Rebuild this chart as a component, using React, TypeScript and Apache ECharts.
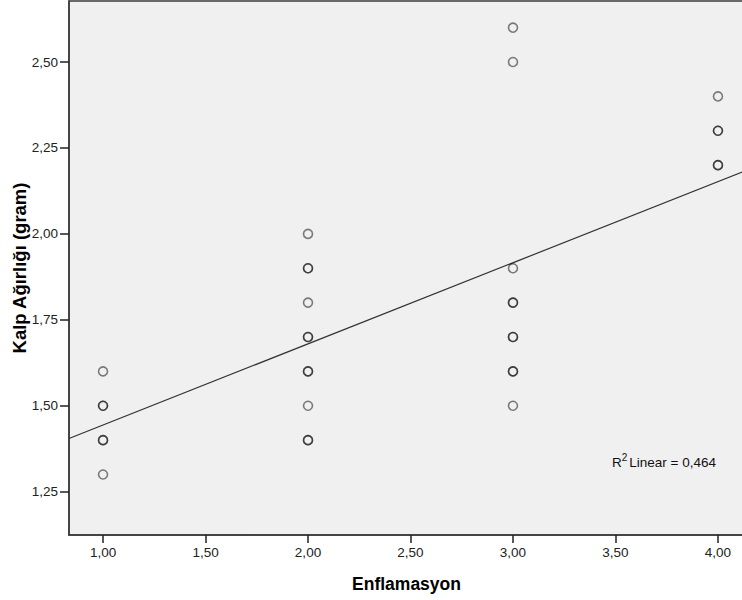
import React, { useEffect, useRef } from "react";
import * as echarts from "echarts";

// Enflamasyon score and heart weight (gram) per animal; repeated pairs are kept
const enflamasyon = [
  1, 1, 1, 1, 1, 1,
  2, 2, 2, 2, 2, 2, 2, 2, 2, 2, 2,
  3, 3, 3, 3, 3, 3, 3, 3, 3, 3,
  4, 4, 4, 4, 4,
];
const kalpAgirligi = [
  1.6, 1.5, 1.5, 1.4, 1.4, 1.3,
  2.0, 1.9, 1.9, 1.8, 1.7, 1.7, 1.6, 1.6, 1.5, 1.4, 1.4,
  2.6, 2.5, 1.9, 1.8, 1.8, 1.7, 1.7, 1.6, 1.6, 1.5,
  2.4, 2.3, 2.3, 2.2, 2.2,
];

// Fitted linear trend
const fitIntercept = 1.208;
const fitSlope = 0.236;
const rSquaredText = "0,464";

const xTicks = [1.0, 1.5, 2.0, 2.5, 3.0, 3.5, 4.0];
const yTicks = [1.25, 1.5, 1.75, 2.0, 2.25, 2.5];
const xRange = [0.834, 4.127];
const yRange = [1.124, 2.6775];

const fmt = (v: number) => v.toFixed(2).replace(".", ",");

export default function App() {
  const ref = useRef<HTMLDivElement>(null);

  useEffect(() => {
    if (!ref.current) return;
    const chart = echarts.init(ref.current, undefined, { renderer: "svg" });
    const points = enflamasyon.map((x, i) => [x, kalpAgirligi[i]]);
    const fitLine = xRange.map((x) => [x, fitIntercept + fitSlope * x]);
    const font = "'Liberation Sans', Arial, sans-serif";

    chart.setOption({
      animation: false,
      backgroundColor: "#ffffff",
      grid: {
        left: 69,
        top: 1,
        width: 675,
        height: 534,
        outerBoundsMode: "none",
        containLabel: false,
        show: true,
        backgroundColor: "#f0f0f0",
        borderColor: "#3a3a3a",
        borderWidth: 1.5,
      },
      xAxis: {
        type: "value",
        min: xRange[0],
        max: xRange[1],
        name: "Enflamasyon",
        nameLocation: "middle",
        nameGap: 40,
        nameMoveOverlap: false,
        nameTextStyle: { fontFamily: font, fontSize: 17.5, fontWeight: "bold", color: "#000" },
        axisLine: { show: true, onZero: false, lineStyle: { color: "#3a3a3a", width: 1.5 } },
        axisTick: {
          show: true,
          length: 8,
          customValues: xTicks,
          lineStyle: { color: "#222", width: 1.5 },
        },
        axisLabel: {
          customValues: xTicks,
          formatter: (v: number) => fmt(v),
          fontFamily: font,
          fontSize: 13.5,
          color: "#222",
          margin: 10,
        },
        splitLine: { show: false },
      },
      yAxis: {
        type: "value",
        min: yRange[0],
        max: yRange[1],
        name: "Kalp Ağırlığı (gram)",
        nameLocation: "middle",
        nameGap: 40,
        nameMoveOverlap: false,
        nameRotate: 90,
        nameTextStyle: { fontFamily: font, fontSize: 18.5, fontWeight: "bold", color: "#000" },
        axisLine: { show: true, onZero: false, lineStyle: { color: "#3a3a3a", width: 1.5 } },
        axisTick: {
          show: true,
          length: 9,
          customValues: yTicks,
          lineStyle: { color: "#222", width: 1.5 },
        },
        axisLabel: {
          customValues: yTicks,
          formatter: (v: number) => fmt(v),
          fontFamily: font,
          fontSize: 13.5,
          color: "#222",
          margin: 11,
        },
        splitLine: { show: false },
      },
      series: [
        {
          type: "line",
          data: fitLine,
          symbol: "none",
          silent: true,
          lineStyle: { color: "#333", width: 1.2 },
          z: 2,
        },
        {
          type: "scatter",
          data: points,
          symbol: "circle",
          symbolSize: 9,
          itemStyle: {
            color: "rgba(0,0,0,0)",
            borderColor: "rgba(0,0,0,0.62)",
            borderWidth: 1.6,
          },
          z: 3,
        },
      ],
      graphic: [
        {
          type: "text",
          left: 612,
          top: 452,
          style: {
            text: "{r|R}{s|2}{r|Linear = " + rSquaredText + "}",
            rich: {
              r: { fontFamily: font, fontSize: 13.5, fill: "#111", verticalAlign: "bottom" },
              s: { fontFamily: font, fontSize: 10, fill: "#111", verticalAlign: "top", padding: [0, 2, 7, 0] },
            },
          },
        },
      ],
    });

    return () => chart.dispose();
  }, []);

  return (
    <div
      ref={ref}
      style={{ position: "fixed", left: 0, top: 0, width: 742, height: 600, background: "#fff" }}
    />
  );
}
